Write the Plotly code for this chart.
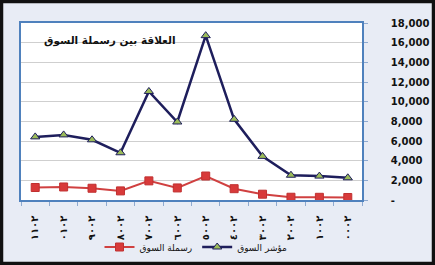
import plotly.graph_objects as go

years = ["٢٠١١", "٢٠١٠", "٢٠٠٩", "٢٠٠٨", "٢٠٠٧", "٢٠٠٦", "٢٠٠٥", "٢٠٠٤", "٢٠٠٣", "٢٠٠٢", "٢٠٠١", "٢٠٠٠"]
market_index = [6418, 6620, 6121, 4803, 11038, 7933, 16712, 8206, 4437, 2518, 2430, 2258]
market_cap = [1271, 1325, 1196, 925, 1946, 1226, 2438, 1149, 590, 281, 275, 255]
y_ticks = [0, 2000, 4000, 6000, 8000, 10000, 12000, 14000, 16000, 18000]
y_tick_text = ["-", "2,000", "4,000", "6,000", "8,000", "10,000", "12,000", "14,000", "16,000", "18,000"]

W, H = 435, 265
L, R, T, B = 21, 73, 23, 65
pw, ph = W - L - R, H - T - B

fig = go.Figure()
fig.add_trace(go.Scatter(
    x=years, y=market_cap, name="رسملة السوق", mode="lines+markers",
    line=dict(color="#d04040", width=2),
    marker=dict(symbol="square", size=8, color="#d83a3a", line=dict(color="#c03030", width=1)),
))
fig.add_trace(go.Scatter(
    x=years, y=market_index, name="مؤشر السوق", mode="lines+markers",
    line=dict(color="#1e1e5c", width=2.5),
    marker=dict(symbol="triangle-up", size=8, color="#9bbb59", line=dict(color="#1e1e5c", width=1)),
))

def px_x(v):
    return (v - L) / pw

def px_y(v):
    return (T + ph - v) / ph

fig.add_shape(type="rect", xref="paper", yref="paper",
              x0=px_x(1.5), x1=px_x(W - 1.5), y0=px_y(H - 1.5), y1=px_y(1.5),
              line=dict(color="#111111", width=3.5), layer="above")

fig.add_annotation(x=px_x(178), y=px_y(40), xref="paper", yref="paper",
                   xanchor="right", yanchor="middle", showarrow=False,
                   text="<b>العلاقة بين رسملة السوق</b>",
                   font=dict(family="DejaVu Sans", size=10.5, color="#111111"))

fig.update_layout(
    width=W, height=H,
    margin=dict(l=L, r=R, t=T, b=B, autoexpand=False),
    paper_bgcolor="#e8ecf5", plot_bgcolor="#ffffff",
    showlegend=True,
    legend=dict(orientation="h", x=px_x(196), xanchor="center", y=px_y(247), yanchor="middle",
                font=dict(family="DejaVu Sans", size=9, color="#111111"),
                bgcolor="rgba(0,0,0,0)", tracegroupgap=0),
    xaxis=dict(type="category", range=[-0.5, 11.5], showgrid=False, automargin=False,
               showline=True, mirror=True, linecolor="#4f81bd", linewidth=1.5,
               ticks="outside", tickson="boundaries", ticklen=4, tickcolor="#8faad0",
               tickangle=-90, ticklabelstandoff=10,
               labelalias={y: "\u202e" + y + "\u202c" for y in years},
               tickfont=dict(family="DejaVu Sans", size=10, color="#111111", weight="bold")),
    yaxis=dict(side="right", range=[0, 18000], tickvals=y_ticks, ticktext=y_tick_text,
               showgrid=True, gridcolor="#cfcfcf", gridwidth=1, automargin=False,
               showline=True, mirror=True, linecolor="#4f81bd", linewidth=1.5,
               ticks="outside", ticklen=4, tickcolor="#8faad0", zeroline=False,
               ticklabelstandoff=21,
               tickfont=dict(family="DejaVu Sans", size=10, color="#111111", weight="bold")),
)

fig.write_html("out.html")
